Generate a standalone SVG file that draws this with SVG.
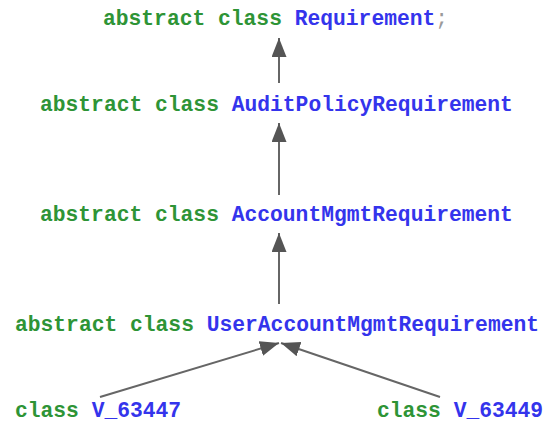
<svg xmlns="http://www.w3.org/2000/svg" width="546" height="428" viewBox="0 0 546 428">
  <style>
    .lbl { font-family: "Liberation Mono", "Courier New", monospace; font-weight: bold; font-size: 21.3px; }
    .kw { fill: #2e9436; }
    .id { fill: #3434ec; }
    .punct { fill: #9a9a9a; font-weight: normal; }
    .edge { stroke: #666666; stroke-width: 2; fill: none; }
  </style>
  <defs>
    <marker id="head" markerUnits="userSpaceOnUse" markerWidth="20" markerHeight="16" refX="19" refY="7.5" orient="auto">
      <path d="M0,0 L19,7.5 L0,15 Z" fill="#555555"/>
    </marker>
  </defs>

  <rect width="546" height="428" fill="#ffffff"/>

  <g id="connectors">
    <line class="edge" x1="279" y1="83" x2="279" y2="38" marker-end="url(#head)"/>
    <line class="edge" x1="279" y1="195" x2="279" y2="123" marker-end="url(#head)"/>
    <line class="edge" x1="279" y1="304" x2="279" y2="233" marker-end="url(#head)"/>
    <line class="edge" x1="100" y1="397" x2="279" y2="343" marker-end="url(#head)"/>
    <line class="edge" x1="440" y1="397" x2="281" y2="343" marker-end="url(#head)"/>
  </g>

  <g id="Requirement">
    <text class="lbl" x="103" y="25"><tspan class="kw">abstract class </tspan><tspan class="id">Requirement</tspan><tspan class="punct">;</tspan></text>
  </g>
  <g id="AuditPolicyRequirement">
    <text class="lbl" x="40" y="111"><tspan class="kw">abstract class </tspan><tspan class="id">AuditPolicyRequirement</tspan></text>
  </g>
  <g id="AccountMgmtRequirement">
    <text class="lbl" x="40" y="221"><tspan class="kw">abstract class </tspan><tspan class="id">AccountMgmtRequirement</tspan></text>
  </g>
  <g id="UserAccountMgmtRequirement">
    <text class="lbl" x="15" y="331"><tspan class="kw">abstract class </tspan><tspan class="id">UserAccountMgmtRequirement</tspan></text>
  </g>
  <g id="V_63447">
    <text class="lbl" x="15" y="417"><tspan class="kw">class </tspan><tspan class="id">V_63447</tspan></text>
  </g>
  <g id="V_63449">
    <text class="lbl" x="377" y="417"><tspan class="kw">class </tspan><tspan class="id">V_63449</tspan></text>
  </g>
</svg>
